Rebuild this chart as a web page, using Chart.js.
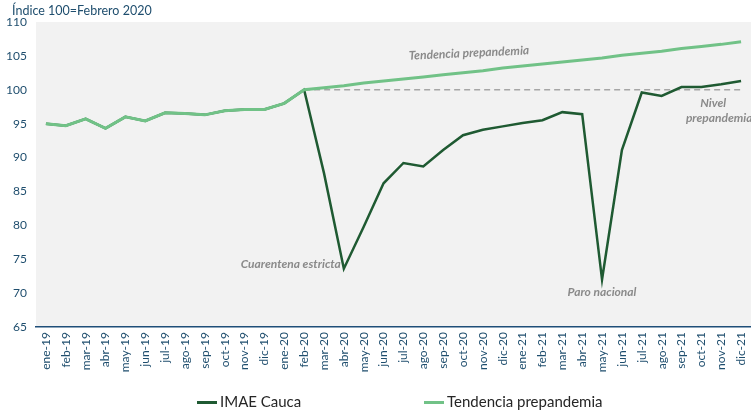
<!DOCTYPE html>
<html>
<head>
<meta charset="utf-8">
<script src="https://cdn.jsdelivr.net/npm/chart.js@4.4.1/dist/chart.umd.min.js"></script>
<style>
  html, body { margin: 0; padding: 0; background: #fff; }
  #wrap { position: relative; width: 751px; height: 410px; overflow: hidden; font-family: Lato, "Open Sans", sans-serif; }
  #title { position: absolute; left: 12px; top: 3px; font-size: 12.5px; color: #1f4e6e; }
  .leg { position: absolute; top: 392px; font-size: 15px; color: #262626; white-space: nowrap; }
  .leg span { display: inline-block; width: 20px; height: 3px; vertical-align: middle; margin-right: 3px; position: relative; top: -1px; }
</style>
</head>
<body>
<div id="wrap">
  <canvas id="chart" width="751" height="410"></canvas>
  <div id="title">Índice 100=Febrero 2020</div>
  <div class="leg" style="left:197px"><span style="background:#1f5a32"></span>IMAE Cauca</div>
  <div class="leg" style="left:424px"><span style="background:#71c287"></span>Tendencia prepandemia</div>
</div>
<script>
var months = ["ene-19", "feb-19", "mar-19", "abr-19", "may-19", "jun-19", "jul-19", "ago-19", "sep-19", "oct-19", "nov-19", "dic-19",
  "ene-20", "feb-20", "mar-20", "abr-20", "may-20", "jun-20", "jul-20", "ago-20", "sep-20", "oct-20", "nov-20", "dic-20",
  "ene-21", "feb-21", "mar-21", "abr-21", "may-21", "jun-21", "jul-21", "ago-21", "sep-21", "oct-21", "nov-21", "dic-21"];

var imae = [95.0, 94.7, 95.7, 94.3, 96.0, 95.4, 96.6, 96.5, 96.3, 96.9, 97.1, 97.1,
  98.0, 100.0, 87.7, 73.6, 79.8, 86.2, 89.2, 88.7, 91.1, 93.3, 94.1, 94.6,
  95.1, 95.5, 96.7, 96.4, 72.0, 91.1, 99.6, 99.1, 100.4, 100.4, 100.8, 101.3];

var tendencia = [95.0, 94.7, 95.7, 94.3, 96.0, 95.4, 96.6, 96.5, 96.3, 96.9, 97.1, 97.1,
  98.0, 100.0, 100.3, 100.6, 101.0, 101.3, 101.6, 101.9, 102.2, 102.5, 102.8, 103.2,
  103.5, 103.8, 104.1, 104.4, 104.7, 105.1, 105.4, 105.7, 106.1, 106.4, 106.7, 107.1];

var nivel = [null, null, null, null, null, null, null, null, null, null, null, null,
  null, 100, 100, 100, 100, 100, 100, 100, 100, 100, 100, 100,
  100, 100, 100, 100, 100, 100, 100, 100, 100, 100, 100, 100];

var yTicks = [65, 70, 75, 80, 85, 90, 95, 100, 105, 110];

// notas: [texto, índice, valor, alineación, rotación]
var notas = [
  ["Tendencia prepandemia", 21.3, 105.4, "center", -0.045],
  ["Cuarentena estricta", 14.85, 74.3, "right", 0],
  ["Paro nacional", 28.0, 70.2, "center", 0],
  ["Nivel", 33.6, 98.1, "center", 0],
  ["prepandemia", 33.9, 95.8, "center", 0]
];

var fondo = {
  id: "fondo",
  beforeDraw: function (chart) {
    var a = chart.chartArea, c = chart.ctx;
    c.save();
    c.fillStyle = "#f2f2f2";
    c.fillRect(a.left, a.top, a.right - a.left, a.bottom - a.top);
    c.restore();
  }
};

var etiquetas = {
  id: "etiquetas",
  afterDraw: function (chart) {
    var c = chart.ctx, x = chart.scales.x, y = chart.scales.y;
    c.save();
    c.font = "italic bold 12px Lato, 'Open Sans', sans-serif";
    c.fillStyle = "#8a8a8a";
    c.textBaseline = "middle";
    notas.forEach(function (n) {
      c.save();
      c.translate(x.getPixelForValue(n[1]), y.getPixelForValue(n[2]));
      c.rotate(n[4]);
      c.textAlign = n[3];
      c.fillText(n[0], 0, 0);
      c.restore();
    });
    c.restore();
  }
};

var ctx = document.getElementById("chart").getContext("2d");
var chart = new Chart(ctx, {
  type: "line",
  data: {
    labels: months,
    datasets: [
      {
        label: "Nivel prepandemia",
        data: nivel,
        borderColor: "#a6a6a6",
        borderWidth: 1.5,
        borderDash: [6, 4],
        pointRadius: 0,
        order: 3
      },
      {
        label: "IMAE Cauca",
        data: imae,
        borderColor: "#1f5a32",
        borderWidth: 2.5,
        pointRadius: 0,
        tension: 0,
        order: 2
      },
      {
        label: "Tendencia prepandemia",
        data: tendencia,
        borderColor: "#71c287",
        borderWidth: 3,
        pointRadius: 0,
        tension: 0,
        order: 1
      }
    ]
  },
  options: {
    responsive: false,
    animation: false,
    layout: { padding: { top: 22, left: 0, right: 0, bottom: 0 } },
    plugins: {
      legend: { display: false },
      tooltip: { enabled: false }
    },
    scales: {
      x: {
        offset: true,
        grid: { display: false, drawTicks: false },
        border: { display: true, color: "#1f4e79", width: 1.5 },
        ticks: {
          autoSkip: false,
          maxRotation: 90,
          minRotation: 90,
          padding: 5,
          color: "#1f4e6e",
          font: { family: "Lato, 'Open Sans', sans-serif", size: 12 }
        },
        afterFit: function (s) { s.height = 83; s.paddingLeft = 0; s.paddingRight = 0; }
      },
      y: {
        min: 65,
        max: 110,
        afterBuildTicks: function (s) { s.ticks = yTicks.map(function (v) { return { value: v }; }); },
        grid: { display: false, drawTicks: false },
        border: { display: false },
        ticks: {
          padding: 9,
          color: "#1f4e6e",
          font: { family: "Lato, 'Open Sans', sans-serif", size: 12 }
        },
        afterFit: function (s) { s.width = 36; }
      }
    }
  },
  plugins: [fondo, etiquetas]
});
</script>
</body>
</html>
